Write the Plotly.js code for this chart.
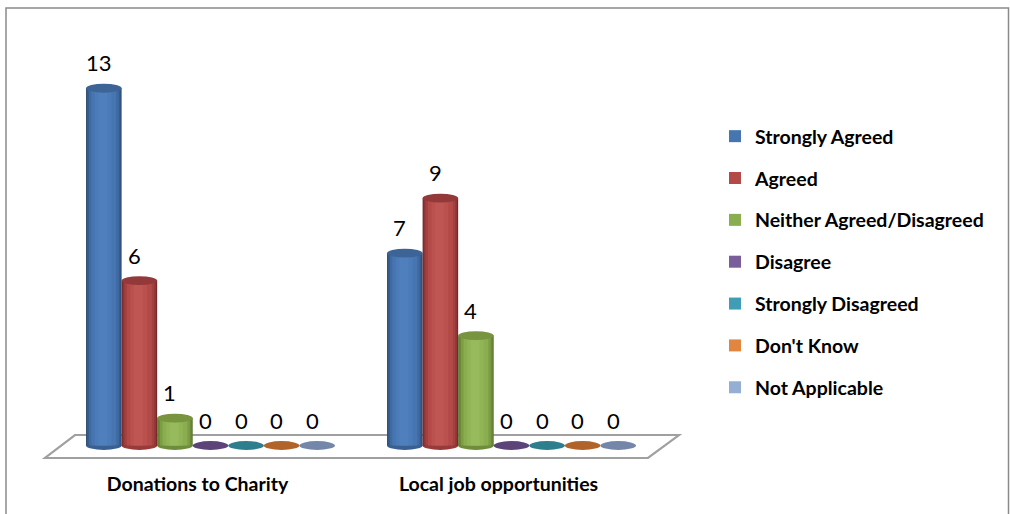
<!DOCTYPE html>
<html>
<head>
<meta charset="utf-8">
<script src="https://cdn.plot.ly/plotly-3.0.1.min.js"></script>
<style>html,body{margin:0;padding:0;background:#fff;}#chart{width:1010px;height:514px;}</style>
</head>
<body>
<div id="chart"></div>
<script>
// ---- data ----
const categories = ['Donations to Charity', 'Local job opportunities'];
const seriesNames = ['Strongly Agreed', 'Agreed', 'Neither Agreed/Disagreed', 'Disagree', 'Strongly Disagreed', "Don't Know", 'Not Applicable'];
const stronglyAgreed = [13, 7];
const agreed = [6, 9];
const neither = [1, 4];
const disagree = [0, 0];
const stronglyDisagreed = [0, 0];
const dontKnow = [0, 0];
const notApplicable = [0, 0];
const seriesValues = [stronglyAgreed, agreed, neither, disagree, stronglyDisagreed, dontKnow, notApplicable];

// ---- styles ----
// body shading from edge (index 0) to centre highlight (index 5); index 3 is the legend colour
const shades = [
  {b:['#2c4a73','#365c8d','#3f6aa2','#4675b1','#4b7bb8','#4f80bd'], bottom:'#3a5f91', top:'#3d6496'},
  {b:['#78292a','#8f3535','#a34140','#b44a48','#bb514e','#c05653'], bottom:'#983a39', top:'#93393a'},
  {b:['#5b752f','#6c8a39','#7c9d44','#8aad4f','#91b456','#97ba5c'], bottom:'#6f8c3b', top:'#78943f'},
  {b:['#7a5e9c','#7a5e9c','#7a5e9c','#7a5e9c','#7a5e9c','#7a5e9c'], bottom:'#5c4478', top:'#5c4478'},
  {b:['#3f9db5','#3f9db5','#3f9db5','#3f9db5','#3f9db5','#3f9db5'], bottom:'#2e7f8e', top:'#2e7f8e'},
  {b:['#e08640','#e08640','#e08640','#e08640','#e08640','#e08640'], bottom:'#b0642a', top:'#b0642a'},
  {b:['#95aed3','#95aed3','#95aed3','#95aed3','#95aed3','#95aed3'], bottom:'#7587a9', top:'#7587a9'}
];
const bands = [
  {l:0.00, r:1.00},
  {l:0.03, r:0.97},
  {l:0.08, r:0.92},
  {l:0.15, r:0.85, legend:true},
  {l:0.25, r:0.72},
  {l:0.35, r:0.60}
];
const G = 0.827;               // fraction of category occupied by the group
const w = G / seriesNames.length;
const capH = 0.16;             // half-height of cylinder caps in data units
const FONT = 'Lato, "Open Sans", sans-serif';

const traces = [];
const shapes = [];
const annotations = [];

// floor (decoration, paper coords)
shapes.push({type:'path', xref:'paper', yref:'paper', layer:'below',
  path:'M 0.0249 0.0668 L 1.0282 0.0668 L 0.9767 0.0099 L -0.0249 0.0099 Z',
  line:{color:'#a0a0a0', width:2.2}, fillcolor:'rgba(255,255,255,0)'});
// outer border
shapes.push({type:'rect', xref:'paper', yref:'paper', layer:'below',
  x0:-0.0897, x1:1.5756, y0:-0.2, y1:1.1238,
  line:{color:'#8a8a8a', width:1.5}, fillcolor:'rgba(0,0,0,0)'});

seriesNames.forEach((name, i) => {
  const vals = seriesValues[i];
  const sh = shades[i];
  bands.forEach((b, k) => {
    traces.push({
      type:'bar', name:name, x:categories, y:vals,
      offset: -G/2 + i*w + b.l*w, width: (b.r - b.l)*w,
      marker:{color: sh.b[k], line:{width:0}},
      legendgroup:'g'+i, showlegend: !!b.legend,
      hoverinfo: b.legend ? 'name+y' : 'skip'
    });
  });
  vals.forEach((v, c) => {
    const xc = c - G/2 + (i + 0.5)*w;
    if (v > 0) {
      shapes.push({type:'circle', xref:'x', yref:'y', layer:'below',
        x0: xc - w/2, x1: xc + w/2, y0: -capH, y1: capH,
        fillcolor: sh.bottom, line:{width:0}});
    }
    shapes.push({type:'circle', xref:'x', yref:'y', layer:'above',
      x0: xc - w/2, x1: xc + w/2, y0: v - capH, y1: v + capH,
      fillcolor: sh.top, line:{width:0}});
    annotations.push({xref:'x', yref:'y', x: xc, y: v, text: String(v),
      showarrow:false, yanchor:'bottom', xanchor:'center', yshift:10, xshift:-5,
      font:{family:FONT, size:22, color:'#000'}});
  });
});

const layout = {
  width:1010, height:514,
  margin:{l:60, r:348, t:58, b:52},
  paper_bgcolor:'#ffffff', plot_bgcolor:'rgba(0,0,0,0)',
  barmode:'overlay',
  showlegend:true,
  legend:{x:1.088, xanchor:'left', y:0.854, yanchor:'top',
    font:{family:FONT, size:19.5, color:'#000', weight:'bold'},
    tracegroupgap:13.5, bgcolor:'rgba(0,0,0,0)'},
  xaxis:{type:'category', range:[-0.5, 1.5], showgrid:false, zeroline:false, showline:false,
    ticks:'', ticklabelshift:-13, ticklabelstandoff:8,
    tickfont:{family:FONT, size:19.5, color:'#000', weight:'bold'}, fixedrange:true},
  yaxis:{range:[-0.6, 14.1], visible:false, showgrid:false, zeroline:false, fixedrange:true},
  shapes:shapes,
  annotations:annotations,
  font:{family:FONT}
};

Plotly.newPlot('chart', traces, layout, {displayModeBar:false, staticPlot:true});
</script>
</body>
</html>
